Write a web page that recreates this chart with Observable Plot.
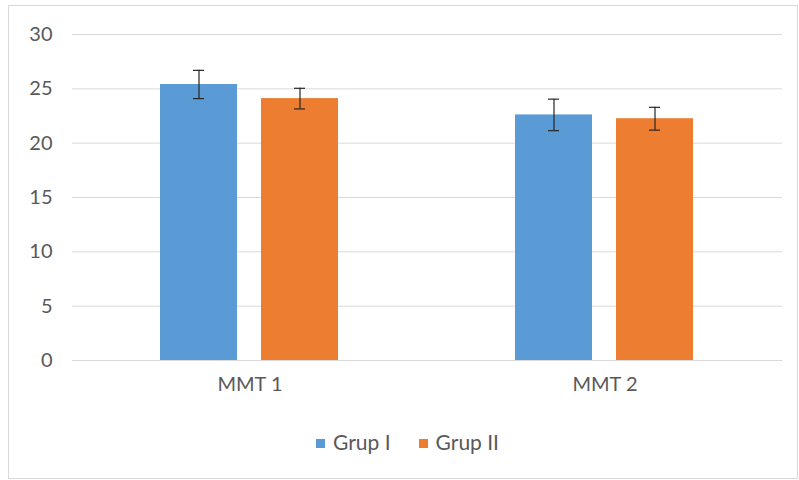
<!DOCTYPE html>
<html>
<head>
<meta charset="utf-8">
<script src="https://cdn.jsdelivr.net/npm/d3@7"></script>
<script src="https://cdn.jsdelivr.net/npm/@observablehq/plot@0.6"></script>
<style>
  body { margin: 0; background: #fff; font-family: Lato, "Open Sans", sans-serif; }
  #wrap { position: relative; width: 799px; height: 480px; overflow: hidden; }
  #frame { position: absolute; left: 8px; top: 5px; width: 790px; height: 474px; border: 1px solid #d9d9d9; box-sizing: border-box; }
  #chart { position: absolute; left: 0; top: 0; }
  #legend { position: absolute; top: 431px; left: 316px; font-size: 21px; color: #595959; display: flex; gap: 28px; line-height: 22px; }
  #legend span.item { display: flex; align-items: center; }
  #legend span.sw { display: inline-block; width: 9px; height: 9px; margin-right: 8px; margin-top: 3px; }
</style>
</head>
<body>
<div id="wrap">
  <div id="frame"></div>
  <div id="chart"></div>
  <div id="legend"></div>
</div>
<script>
const categories = ["MMT 1", "MMT 2"];
const groups = ["Grup I", "Grup II"];
const colors = ["#5b9bd5", "#ed7d31"];
const grupI = [25.4, 22.6];
const grupIErr = [1.3, 1.45];
const grupII = [24.1, 22.25];
const grupIIErr = [0.95, 1.05];
const yTicks = [0, 5, 10, 15, 20, 25, 30];

const data = [];
categories.forEach((c, i) => {
  data.push({category: c, group: groups[0], value: grupI[i], err: grupIErr[i]});
  data.push({category: c, group: groups[1], value: grupII[i], err: grupIIErr[i]});
});
data.forEach(d => { d.lo = d.value - d.err; d.hi = d.value + d.err; });

const chart = Plot.plot({
  width: 799,
  height: 400,
  marginLeft: 72,
  marginRight: 17,
  marginTop: 34,
  marginBottom: 40,
  style: {fontFamily: "Lato, 'Open Sans', sans-serif", fontSize: "20px", color: "#595959", background: "transparent"},
  fx: {domain: categories, paddingInner: 0, paddingOuter: 0, label: null, axis: "bottom", tickSize: 0, tickPadding: 16},
  x: {domain: groups, paddingInner: 0.235, paddingOuter: 0.858, axis: null},
  y: {domain: [0, 30], ticks: yTicks, tickSize: 0, tickPadding: 20, label: null},
  color: {domain: groups, range: colors},
  marks: [
    Plot.gridY(yTicks, {stroke: "#d9d9d9", strokeOpacity: 1}),
    Plot.barY(data, {fx: "category", x: "group", y: "value", fill: "group"}),
    Plot.ruleX(data, {fx: "category", x: "group", y1: "lo", y2: "hi", stroke: "#262626", strokeWidth: 1.2}),
    Plot.tickY(data, {fx: "category", x: "group", y: "lo", stroke: "#262626", strokeWidth: 1.2, insetLeft: 33, insetRight: 33}),
    Plot.tickY(data, {fx: "category", x: "group", y: "hi", stroke: "#262626", strokeWidth: 1.2, insetLeft: 33, insetRight: 33})
  ]
});
document.getElementById("chart").appendChild(chart);

const legend = document.getElementById("legend");
groups.forEach((g, i) => {
  const item = document.createElement("span");
  item.className = "item";
  const sw = document.createElement("span");
  sw.className = "sw";
  sw.style.background = colors[i];
  item.appendChild(sw);
  item.appendChild(document.createTextNode(g));
  legend.appendChild(item);
});
</script>
</body>
</html>
